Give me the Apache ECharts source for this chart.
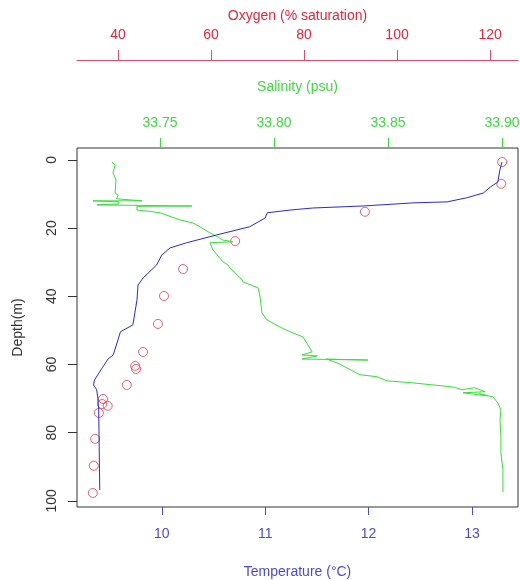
<!DOCTYPE html>
<html>
<head>
<meta charset="utf-8">
<script src="https://cdn.jsdelivr.net/npm/echarts@6/dist/echarts.min.js"></script>
<style>
html,body{margin:0;padding:0;background:#fff;}
#c{width:520px;height:580px;}
</style>
</head>
<body>
<div id="c"></div>
<script>
// Temperature profile (blue line)
var tempDepth = [0.6, 2.9, 6.5, 7.9, 9.7, 11.1, 12.3, 12.6, 13.5, 14.1, 14.7, 15.5, 17.0, 19.6, 22.0, 24.3, 25.8, 27.9, 30.8, 34.6, 36.7, 41.1, 48.4, 50.4, 53.4, 57.2, 58.4, 60.7, 64.5, 66.0, 67.4, 69.5, 73.3, 96.8];
var tempValue = [13.29, 13.27, 13.25, 13.18, 13.11, 12.95, 12.76, 12.43, 11.95, 11.46, 11.24, 11.02, 11.00, 10.85, 10.53, 10.24, 10.08, 10.00, 9.95, 9.82, 9.77, 9.76, 9.72, 9.60, 9.57, 9.53, 9.48, 9.43, 9.35, 9.34, 9.37, 9.38, 9.39, 9.40];

// Salinity profile (green line)
var salDepth = [0.6, 1.5, 3.8, 5.9, 9.7, 10.3, 11.4, 12.0, 12.0, 12.3, 12.9, 13.2, 13.5, 13.6, 14.7, 15.0, 15.5, 17.6, 18.5, 19.6, 21.4, 22.6, 23.5, 24.0, 24.3, 26.4, 29.9, 30.8, 31.7, 33.7, 35.2, 35.8, 37.5, 40.2, 44.9, 46.9, 49.0, 50.4, 51.9, 54.3, 56.3, 57.2, 57.5, 58.4, 58.7, 58.4, 59.5, 63.0, 63.6, 64.8, 65.4, 66.6, 67.4, 66.8, 68.0, 68.3, 69.2, 68.6, 69.5, 71.3, 73.3, 76.2, 81.2, 85.9, 90.9, 97.4];
var salValue = [33.7289, 33.7303, 33.7294, 33.7307, 33.7303, 33.7316, 33.7310, 33.7421, 33.7206, 33.7320, 33.7320, 33.7224, 33.7640, 33.7399, 33.7399, 33.7443, 33.7500, 33.7588, 33.7645, 33.7675, 33.7719, 33.7754, 33.7776, 33.7820, 33.7719, 33.7732, 33.7776, 33.7798, 33.7807, 33.7838, 33.7860, 33.7864, 33.7930, 33.7939, 33.7947, 33.7969, 33.8026, 33.8070, 33.8127, 33.8149, 33.8167, 33.8123, 33.8190, 33.8123, 33.8412, 33.8230, 33.8276, 33.8377, 33.8452, 33.8496, 33.8610, 33.8785, 33.8825, 33.8880, 33.8925, 33.8829, 33.8935, 33.8900, 33.8960, 33.8982, 33.8995, 33.8991, 33.8995, 33.8995, 33.9004, 33.9004];

// Oxygen samples (red circles)
var oxyDepth = [0.6, 7.0, 15.2, 23.8, 32.0, 39.9, 48.1, 56.3, 60.4, 61.3, 66.0, 70.1, 71.6, 72.1, 74.2, 81.8, 89.7, 97.7];
var oxyValue = [122.6, 122.4, 93.1, 65.2, 54.0, 49.9, 48.6, 45.4, 43.7, 43.9, 41.9, 36.8, 36.6, 37.8, 35.9, 35.1, 34.8, 34.6];

// Tick labels
var tempTicks = [10, 11, 12, 13];
var salTicks = [33.75, 33.80, 33.85, 33.90];
var oxyTicks = [40, 60, 80, 100, 120];
var depthTicks = [0, 20, 40, 60, 80, 100];

function pairs(xs, ys) {
  var out = [];
  for (var i = 0; i < xs.length; i++) out.push([xs[i], ys[i]]);
  return out;
}

var FONT = "'Liberation Sans', Arial, sans-serif";
var RED = '#e3263a', REDLINE = '#d9506a', GREEN = '#3fd83f', BLUE = '#4a4ad8', DARK = '#333';

var chart = echarts.init(document.getElementById('c'), null, {renderer: 'canvas'});
chart.setOption({
  animation: false,
  backgroundColor: '#fff',
  grid: {left: 77, top: 148, right: 2, bottom: 73, outerBoundsMode: 'none', containLabel: false,
    show: true, borderColor: DARK, borderWidth: 1, backgroundColor: 'transparent'},
  xAxis: [
    {
      type: 'value', position: 'bottom', min: 9.18, max: 13.445,
      name: 'Temperature (°C)', nameLocation: 'middle', nameGap: 58,
      nameTextStyle: {color: BLUE, fontSize: 14, fontFamily: FONT},
      axisLine: {show: false, onZero: false},
      axisTick: {show: true, length: 8, lineStyle: {color: BLUE}, customValues: tempTicks},
      axisLabel: {color: BLUE, fontSize: 14, fontFamily: FONT, margin: 20, customValues: tempTicks},
      splitLine: {show: false}
    },
    {
      type: 'value', position: 'top', min: 33.7136, max: 33.907,
      name: 'Salinity (psu)', nameLocation: 'middle', nameGap: 54,
      nameTextStyle: {color: GREEN, fontSize: 14, fontFamily: FONT},
      axisLine: {show: false, onZero: false},
      axisTick: {show: true, length: 10, lineStyle: {color: GREEN}, customValues: salTicks},
      axisLabel: {color: GREEN, fontSize: 14, fontFamily: FONT, margin: 18, customValues: salTicks,
        formatter: function (v) { return v.toFixed(2); }},
      splitLine: {show: false}
    },
    {
      type: 'value', position: 'top', offset: 88, min: 31.2, max: 126.0,
      name: 'Oxygen (% saturation)', nameLocation: 'middle', nameGap: 34,
      nameTextStyle: {color: RED, fontSize: 14, fontFamily: FONT},
      axisLine: {show: true, onZero: false, lineStyle: {color: REDLINE, width: 1}},
      axisTick: {show: true, length: 10, lineStyle: {color: REDLINE}, customValues: oxyTicks},
      axisLabel: {color: RED, fontSize: 14, fontFamily: FONT, margin: 18, customValues: oxyTicks},
      splitLine: {show: false}
    }
  ],
  yAxis: [
    {
      type: 'value', inverse: true, min: -3.5, max: 101.8,
      name: 'Depth(m)', nameLocation: 'middle', nameGap: 52, nameRotate: 90,
      nameTextStyle: {color: DARK, fontSize: 14, fontFamily: FONT},
      axisLine: {show: false, onZero: false},
      axisTick: {show: true, length: 9, lineStyle: {color: DARK}, customValues: depthTicks},
      axisLabel: {color: DARK, fontSize: 14, fontFamily: FONT, margin: 18, rotate: 90, customValues: depthTicks},
      splitLine: {show: false}
    }
  ],
  series: [
    {
      type: 'line', xAxisIndex: 1, yAxisIndex: 0, data: pairs(salValue, salDepth),
      showSymbol: false, lineStyle: {color: '#35e035', width: 1}, silent: true
    },
    {
      type: 'line', xAxisIndex: 0, yAxisIndex: 0, data: pairs(tempValue, tempDepth),
      showSymbol: false, lineStyle: {color: '#2a2ad6', width: 1}, silent: true
    },
    {
      type: 'scatter', xAxisIndex: 2, yAxisIndex: 0, data: pairs(oxyValue, oxyDepth),
      symbol: 'circle', symbolSize: 9,
      itemStyle: {color: 'transparent', borderColor: '#e8364a', borderWidth: 1}, silent: true
    }
  ]
});
</script>
</body>
</html>
